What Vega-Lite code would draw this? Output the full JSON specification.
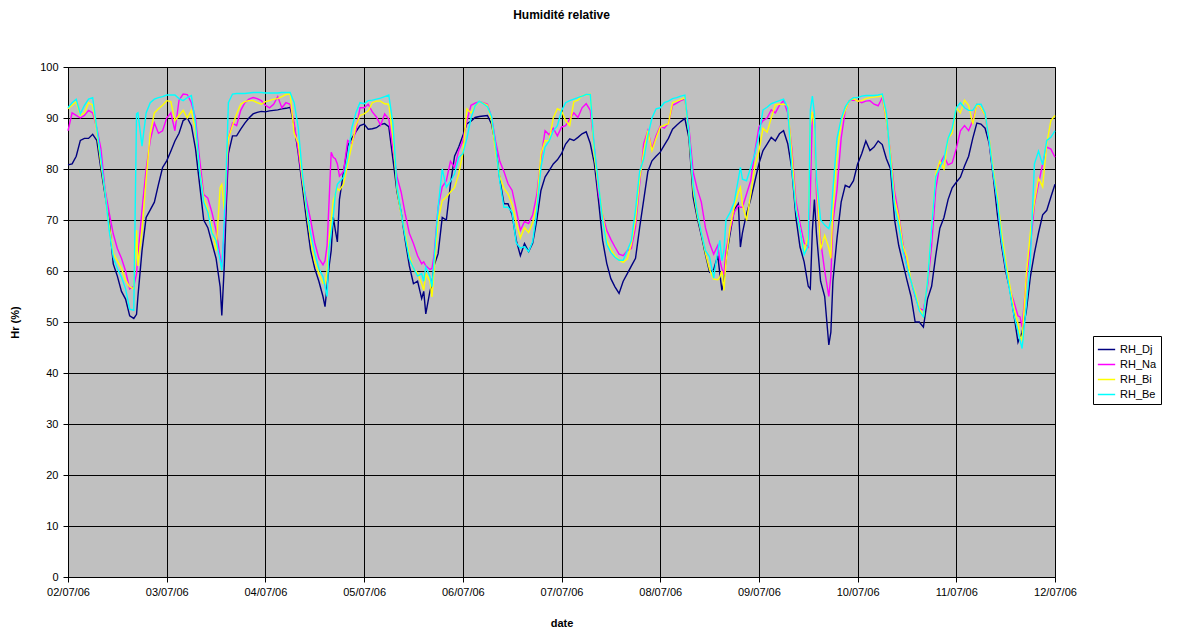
{
  "$schema": "https://vega.github.io/schema/vega-lite/v6.json",
  "width": 987,
  "height": 510,
  "autosize": {"type": "none"},
  "padding": {"left": 68, "top": 67, "right": 134, "bottom": 55},
  "background": "white",
  "title": {"text": "Humidité relative", "fontSize": 12, "fontWeight": "bold", "anchor": "middle", "offset": 39, "color": "black", "font": "Liberation Sans"},
  "config": {
    "font": "Liberation Sans",
    "view": {"fill": "#C0C0C0", "stroke": "#808080", "strokeWidth": 1},
    "axis": {"labelFontSize": 11, "labelColor": "black", "domainColor": "black", "tickColor": "black", "gridColor": "black", "gridOpacity": 1, "gridWidth": 1, "titleFontSize": 11, "titleFontWeight": "bold", "titleColor": "black", "labelFont": "Liberation Sans", "titleFont": "Liberation Sans"}
  },
  "data": {"values": [
    {"t":"2006-07-02T00:00","RH_Dj":80.8,"RH_Na":87.5,"RH_Bi":91.8,"RH_Be":92},
    {"t":"2006-07-02T01:00","RH_Dj":81,"RH_Na":91,"RH_Bi":92.5,"RH_Be":93},
    {"t":"2006-07-02T02:00","RH_Dj":82.5,"RH_Na":90.5,"RH_Bi":93.2,"RH_Be":93.7},
    {"t":"2006-07-02T03:00","RH_Dj":85.6,"RH_Na":90,"RH_Bi":90.5,"RH_Be":90.8},
    {"t":"2006-07-02T04:00","RH_Dj":86,"RH_Na":90.5,"RH_Bi":91,"RH_Be":92.5},
    {"t":"2006-07-02T05:00","RH_Dj":86,"RH_Na":91.5,"RH_Bi":93,"RH_Be":93.7},
    {"t":"2006-07-02T06:00","RH_Dj":86.8,"RH_Na":91,"RH_Bi":92.5,"RH_Be":94},
    {"t":"2006-07-02T07:00","RH_Dj":85.6,"RH_Na":88,"RH_Bi":87.5,"RH_Be":88},
    {"t":"2006-07-02T08:00","RH_Dj":80,"RH_Na":84,"RH_Bi":81,"RH_Be":82},
    {"t":"2006-07-02T09:00","RH_Dj":75,"RH_Na":76,"RH_Bi":75.5,"RH_Be":75.5},
    {"t":"2006-07-02T10:00","RH_Dj":70,"RH_Na":71.5,"RH_Bi":69,"RH_Be":68},
    {"t":"2006-07-02T11:00","RH_Dj":61.4,"RH_Na":67.3,"RH_Bi":63.4,"RH_Be":62.7},
    {"t":"2006-07-02T12:00","RH_Dj":59,"RH_Na":64.4,"RH_Bi":62,"RH_Be":60.5},
    {"t":"2006-07-02T13:00","RH_Dj":56,"RH_Na":62.5,"RH_Bi":60.5,"RH_Be":58.8},
    {"t":"2006-07-02T14:00","RH_Dj":54.5,"RH_Na":60,"RH_Bi":58.2,"RH_Be":56.5},
    {"t":"2006-07-02T15:00","RH_Dj":51.2,"RH_Na":56.5,"RH_Bi":56.9,"RH_Be":52.5},
    {"t":"2006-07-02T16:00","RH_Dj":50.7,"RH_Na":57,"RH_Bi":56.5,"RH_Be":52.3},
    {"t":"2006-07-02T16:40","RH_Dj":51.5,"RH_Na":59.5,"RH_Bi":68,"RH_Be":90.8},
    {"t":"2006-07-02T17:00","RH_Dj":55,"RH_Na":63,"RH_Bi":61,"RH_Be":91},
    {"t":"2006-07-02T18:00","RH_Dj":64,"RH_Na":72,"RH_Bi":68,"RH_Be":84.5},
    {"t":"2006-07-02T19:00","RH_Dj":70.5,"RH_Na":80,"RH_Bi":78,"RH_Be":91},
    {"t":"2006-07-02T20:00","RH_Dj":72,"RH_Na":85.6,"RH_Bi":87,"RH_Be":93},
    {"t":"2006-07-02T21:00","RH_Dj":73.5,"RH_Na":89,"RH_Bi":91,"RH_Be":93.7},
    {"t":"2006-07-02T22:00","RH_Dj":77,"RH_Na":87,"RH_Bi":91.8,"RH_Be":94},
    {"t":"2006-07-02T23:00","RH_Dj":80.3,"RH_Na":87.5,"RH_Bi":92.5,"RH_Be":94.2},
    {"t":"2006-07-03T00:00","RH_Dj":81.6,"RH_Na":90,"RH_Bi":93.4,"RH_Be":94.5},
    {"t":"2006-07-03T01:00","RH_Dj":83.5,"RH_Na":91,"RH_Bi":93.2,"RH_Be":94.5},
    {"t":"2006-07-03T02:00","RH_Dj":85.5,"RH_Na":87.5,"RH_Bi":89.5,"RH_Be":94.5},
    {"t":"2006-07-03T03:00","RH_Dj":87,"RH_Na":93.5,"RH_Bi":90.5,"RH_Be":93.8},
    {"t":"2006-07-03T04:00","RH_Dj":89.5,"RH_Na":94.7,"RH_Bi":91.5,"RH_Be":93.4},
    {"t":"2006-07-03T05:00","RH_Dj":90,"RH_Na":94.6,"RH_Bi":90,"RH_Be":94},
    {"t":"2006-07-03T06:00","RH_Dj":88.5,"RH_Na":93,"RH_Bi":91.5,"RH_Be":94.4},
    {"t":"2006-07-03T07:00","RH_Dj":84,"RH_Na":90,"RH_Bi":87.5,"RH_Be":89},
    {"t":"2006-07-03T08:00","RH_Dj":77,"RH_Na":82,"RH_Bi":80,"RH_Be":79.5},
    {"t":"2006-07-03T09:00","RH_Dj":70,"RH_Na":75,"RH_Bi":74.3,"RH_Be":73.5},
    {"t":"2006-07-03T10:00","RH_Dj":68.5,"RH_Na":74.3,"RH_Bi":72,"RH_Be":71.5},
    {"t":"2006-07-03T11:00","RH_Dj":65.5,"RH_Na":71.5,"RH_Bi":68.5,"RH_Be":67.5},
    {"t":"2006-07-03T12:00","RH_Dj":62.5,"RH_Na":68,"RH_Bi":64,"RH_Be":66},
    {"t":"2006-07-03T13:00","RH_Dj":56.9,"RH_Na":62.7,"RH_Bi":76.4,"RH_Be":62.1},
    {"t":"2006-07-03T13:24","RH_Dj":51.3,"RH_Na":60.8,"RH_Bi":77,"RH_Be":60.1},
    {"t":"2006-07-03T14:00","RH_Dj":61,"RH_Na":68,"RH_Bi":72,"RH_Be":70},
    {"t":"2006-07-03T14:30","RH_Dj":73,"RH_Na":76,"RH_Bi":80,"RH_Be":80},
    {"t":"2006-07-03T15:00","RH_Dj":83,"RH_Na":86,"RH_Bi":86,"RH_Be":93},
    {"t":"2006-07-03T16:00","RH_Dj":86.5,"RH_Na":89,"RH_Bi":88.5,"RH_Be":94.7},
    {"t":"2006-07-03T17:00","RH_Dj":86.5,"RH_Na":88.5,"RH_Bi":90.8,"RH_Be":94.8},
    {"t":"2006-07-03T18:00","RH_Dj":87.8,"RH_Na":91.5,"RH_Bi":92.7,"RH_Be":94.8},
    {"t":"2006-07-03T19:00","RH_Dj":89,"RH_Na":93,"RH_Bi":93.2,"RH_Be":94.8},
    {"t":"2006-07-03T20:00","RH_Dj":90,"RH_Na":93.7,"RH_Bi":93.4,"RH_Be":94.9},
    {"t":"2006-07-03T21:00","RH_Dj":90.8,"RH_Na":94,"RH_Bi":93.4,"RH_Be":95},
    {"t":"2006-07-03T22:00","RH_Dj":91.1,"RH_Na":93.8,"RH_Bi":93,"RH_Be":95},
    {"t":"2006-07-03T23:00","RH_Dj":91.3,"RH_Na":93.4,"RH_Bi":92.7,"RH_Be":95},
    {"t":"2006-07-04T00:00","RH_Dj":91.2,"RH_Na":92.5,"RH_Bi":93.2,"RH_Be":94.9},
    {"t":"2006-07-04T01:00","RH_Dj":91.4,"RH_Na":92,"RH_Bi":93.4,"RH_Be":94.9},
    {"t":"2006-07-04T02:00","RH_Dj":91.5,"RH_Na":92.7,"RH_Bi":93.7,"RH_Be":94.9},
    {"t":"2006-07-04T03:00","RH_Dj":91.6,"RH_Na":94.2,"RH_Bi":93.8,"RH_Be":94.9},
    {"t":"2006-07-04T04:00","RH_Dj":91.8,"RH_Na":92,"RH_Bi":94.2,"RH_Be":95},
    {"t":"2006-07-04T05:00","RH_Dj":91.9,"RH_Na":93,"RH_Bi":94.6,"RH_Be":95},
    {"t":"2006-07-04T06:00","RH_Dj":92.1,"RH_Na":92.7,"RH_Bi":94.7,"RH_Be":95},
    {"t":"2006-07-04T07:00","RH_Dj":88.5,"RH_Na":89,"RH_Bi":87,"RH_Be":93},
    {"t":"2006-07-04T08:00","RH_Dj":83,"RH_Na":83.5,"RH_Bi":85,"RH_Be":88},
    {"t":"2006-07-04T09:00","RH_Dj":76.5,"RH_Na":77.5,"RH_Bi":78,"RH_Be":79},
    {"t":"2006-07-04T10:00","RH_Dj":69.9,"RH_Na":73.8,"RH_Bi":71.9,"RH_Be":72.5},
    {"t":"2006-07-04T11:00","RH_Dj":64,"RH_Na":70,"RH_Bi":66,"RH_Be":67.3},
    {"t":"2006-07-04T12:00","RH_Dj":60.5,"RH_Na":65.5,"RH_Bi":61.8,"RH_Be":63.5},
    {"t":"2006-07-04T13:00","RH_Dj":58,"RH_Na":62.5,"RH_Bi":59.5,"RH_Be":60.5},
    {"t":"2006-07-04T14:00","RH_Dj":55,"RH_Na":61.2,"RH_Bi":57.6,"RH_Be":58.9},
    {"t":"2006-07-04T14:30","RH_Dj":53,"RH_Na":62,"RH_Bi":57.5,"RH_Be":57},
    {"t":"2006-07-04T15:00","RH_Dj":57,"RH_Na":65,"RH_Bi":60,"RH_Be":55},
    {"t":"2006-07-04T15:30","RH_Dj":61,"RH_Na":74,"RH_Bi":66,"RH_Be":64.5},
    {"t":"2006-07-04T16:00","RH_Dj":64,"RH_Na":83.3,"RH_Bi":70,"RH_Be":67.5},
    {"t":"2006-07-04T16:30","RH_Dj":70.6,"RH_Na":82.3,"RH_Bi":73.8,"RH_Be":70.6},
    {"t":"2006-07-04T17:00","RH_Dj":68,"RH_Na":82,"RH_Bi":75,"RH_Be":75},
    {"t":"2006-07-04T17:30","RH_Dj":65.7,"RH_Na":81,"RH_Bi":76.2,"RH_Be":77},
    {"t":"2006-07-04T18:00","RH_Dj":74,"RH_Na":78.6,"RH_Bi":75.8,"RH_Be":77.5},
    {"t":"2006-07-04T19:00","RH_Dj":79.5,"RH_Na":79.5,"RH_Bi":77,"RH_Be":78.4},
    {"t":"2006-07-04T20:00","RH_Dj":84.5,"RH_Na":85.6,"RH_Bi":81,"RH_Be":82},
    {"t":"2006-07-04T21:00","RH_Dj":86,"RH_Na":85,"RH_Bi":84.6,"RH_Be":88},
    {"t":"2006-07-04T22:00","RH_Dj":87.3,"RH_Na":87.5,"RH_Bi":88.5,"RH_Be":91},
    {"t":"2006-07-04T23:00","RH_Dj":88.5,"RH_Na":92,"RH_Bi":90.5,"RH_Be":93},
    {"t":"2006-07-05T00:00","RH_Dj":88.8,"RH_Na":92,"RH_Bi":90.8,"RH_Be":92.8},
    {"t":"2006-07-05T01:00","RH_Dj":87.8,"RH_Na":92.7,"RH_Bi":91.4,"RH_Be":93.4},
    {"t":"2006-07-05T02:00","RH_Dj":87.9,"RH_Na":91.2,"RH_Bi":93,"RH_Be":93.5},
    {"t":"2006-07-05T03:00","RH_Dj":88.1,"RH_Na":90.2,"RH_Bi":93.3,"RH_Be":93.7},
    {"t":"2006-07-05T04:00","RH_Dj":88.7,"RH_Na":88.6,"RH_Bi":93.3,"RH_Be":93.9},
    {"t":"2006-07-05T05:00","RH_Dj":88.9,"RH_Na":90.8,"RH_Bi":92.8,"RH_Be":94.2},
    {"t":"2006-07-05T06:00","RH_Dj":88.3,"RH_Na":89.8,"RH_Bi":92.7,"RH_Be":94.5},
    {"t":"2006-07-05T07:00","RH_Dj":82,"RH_Na":84,"RH_Bi":86.5,"RH_Be":89},
    {"t":"2006-07-05T08:00","RH_Dj":75.5,"RH_Na":78.5,"RH_Bi":76,"RH_Be":76.5},
    {"t":"2006-07-05T09:00","RH_Dj":71.5,"RH_Na":75.5,"RH_Bi":71,"RH_Be":71.5},
    {"t":"2006-07-05T10:00","RH_Dj":66,"RH_Na":71.2,"RH_Bi":67.3,"RH_Be":66.6},
    {"t":"2006-07-05T11:00","RH_Dj":61,"RH_Na":67.4,"RH_Bi":63,"RH_Be":62.3},
    {"t":"2006-07-05T12:00","RH_Dj":57.5,"RH_Na":65.4,"RH_Bi":60.5,"RH_Be":60.6},
    {"t":"2006-07-05T13:00","RH_Dj":58,"RH_Na":63,"RH_Bi":59.6,"RH_Be":59},
    {"t":"2006-07-05T14:00","RH_Dj":54.6,"RH_Na":61.4,"RH_Bi":57.5,"RH_Be":59.5},
    {"t":"2006-07-05T14:30","RH_Dj":56,"RH_Na":61.8,"RH_Bi":56.2,"RH_Be":58},
    {"t":"2006-07-05T15:00","RH_Dj":51.6,"RH_Na":61,"RH_Bi":59.5,"RH_Be":60.8},
    {"t":"2006-07-05T16:00","RH_Dj":56,"RH_Na":60.3,"RH_Bi":58,"RH_Be":59},
    {"t":"2006-07-05T16:30","RH_Dj":57.5,"RH_Na":60.5,"RH_Bi":54.9,"RH_Be":56.9},
    {"t":"2006-07-05T17:00","RH_Dj":61,"RH_Na":63,"RH_Bi":60,"RH_Be":62},
    {"t":"2006-07-05T18:00","RH_Dj":63.4,"RH_Na":72.5,"RH_Bi":69.9,"RH_Be":72.5},
    {"t":"2006-07-05T19:00","RH_Dj":70.5,"RH_Na":76.5,"RH_Bi":73.8,"RH_Be":80},
    {"t":"2006-07-05T20:00","RH_Dj":70,"RH_Na":77.7,"RH_Bi":74.5,"RH_Be":76.4},
    {"t":"2006-07-05T21:00","RH_Dj":77,"RH_Na":81.5,"RH_Bi":75.5,"RH_Be":77.6},
    {"t":"2006-07-05T22:00","RH_Dj":82.5,"RH_Na":80.3,"RH_Bi":76.4,"RH_Be":79},
    {"t":"2006-07-05T23:00","RH_Dj":84.3,"RH_Na":83.6,"RH_Bi":79,"RH_Be":82.3},
    {"t":"2006-07-06T00:00","RH_Dj":86.5,"RH_Na":85.5,"RH_Bi":83,"RH_Be":83},
    {"t":"2006-07-06T01:00","RH_Dj":88.9,"RH_Na":89.5,"RH_Bi":91.8,"RH_Be":86},
    {"t":"2006-07-06T02:00","RH_Dj":89.4,"RH_Na":92.5,"RH_Bi":91,"RH_Be":90},
    {"t":"2006-07-06T03:00","RH_Dj":90.1,"RH_Na":92.9,"RH_Bi":92.3,"RH_Be":92.4},
    {"t":"2006-07-06T04:00","RH_Dj":90.3,"RH_Na":93.2,"RH_Bi":93.2,"RH_Be":93.3},
    {"t":"2006-07-06T05:00","RH_Dj":90.4,"RH_Na":93,"RH_Bi":92.9,"RH_Be":92.8},
    {"t":"2006-07-06T06:00","RH_Dj":90.5,"RH_Na":92.7,"RH_Bi":92.5,"RH_Be":92.2},
    {"t":"2006-07-06T07:00","RH_Dj":88.8,"RH_Na":90.1,"RH_Bi":89.5,"RH_Be":90.3},
    {"t":"2006-07-06T08:00","RH_Dj":84.5,"RH_Na":85.3,"RH_Bi":83.3,"RH_Be":84.5},
    {"t":"2006-07-06T09:00","RH_Dj":78,"RH_Na":81.5,"RH_Bi":78.5,"RH_Be":77.5},
    {"t":"2006-07-06T10:00","RH_Dj":73.2,"RH_Na":79.5,"RH_Bi":76.2,"RH_Be":72.5},
    {"t":"2006-07-06T11:00","RH_Dj":73.2,"RH_Na":77.1,"RH_Bi":75.1,"RH_Be":72.5},
    {"t":"2006-07-06T12:00","RH_Dj":71,"RH_Na":75.8,"RH_Bi":73,"RH_Be":71.5},
    {"t":"2006-07-06T13:00","RH_Dj":66,"RH_Na":72,"RH_Bi":69.5,"RH_Be":65.5},
    {"t":"2006-07-06T14:00","RH_Dj":63,"RH_Na":68,"RH_Bi":66.5,"RH_Be":64.5},
    {"t":"2006-07-06T15:00","RH_Dj":65.4,"RH_Na":69.7,"RH_Bi":68.5,"RH_Be":64.8},
    {"t":"2006-07-06T16:00","RH_Dj":63.8,"RH_Na":69.3,"RH_Bi":67.5,"RH_Be":63.8},
    {"t":"2006-07-06T17:00","RH_Dj":65.5,"RH_Na":71,"RH_Bi":69.5,"RH_Be":65.8},
    {"t":"2006-07-06T18:00","RH_Dj":70,"RH_Na":75,"RH_Bi":73,"RH_Be":72},
    {"t":"2006-07-06T19:00","RH_Dj":75.8,"RH_Na":82,"RH_Bi":83,"RH_Be":80.3},
    {"t":"2006-07-06T20:00","RH_Dj":78.4,"RH_Na":87.5,"RH_Bi":85.6,"RH_Be":84.3},
    {"t":"2006-07-06T21:00","RH_Dj":79.7,"RH_Na":86.7,"RH_Bi":85.5,"RH_Be":85.5},
    {"t":"2006-07-06T22:00","RH_Dj":81,"RH_Na":88,"RH_Bi":90,"RH_Be":87.5},
    {"t":"2006-07-06T23:00","RH_Dj":81.8,"RH_Na":86.5,"RH_Bi":91.8,"RH_Be":88.5},
    {"t":"2006-07-07T00:00","RH_Dj":83,"RH_Na":88.2,"RH_Bi":91.4,"RH_Be":91.4},
    {"t":"2006-07-07T01:00","RH_Dj":84.9,"RH_Na":88.5,"RH_Bi":89.5,"RH_Be":93},
    {"t":"2006-07-07T02:00","RH_Dj":85.9,"RH_Na":89.8,"RH_Bi":88.5,"RH_Be":93.4},
    {"t":"2006-07-07T03:00","RH_Dj":85.6,"RH_Na":91,"RH_Bi":93.2,"RH_Be":93.7},
    {"t":"2006-07-07T04:00","RH_Dj":86.2,"RH_Na":90.1,"RH_Bi":93.5,"RH_Be":94},
    {"t":"2006-07-07T05:00","RH_Dj":86.9,"RH_Na":92,"RH_Bi":94.4,"RH_Be":94.3},
    {"t":"2006-07-07T06:00","RH_Dj":87.3,"RH_Na":92.8,"RH_Bi":94.5,"RH_Be":94.6},
    {"t":"2006-07-07T07:00","RH_Dj":85,"RH_Na":91.5,"RH_Bi":94.7,"RH_Be":94.6},
    {"t":"2006-07-07T08:00","RH_Dj":81,"RH_Na":84,"RH_Bi":82.5,"RH_Be":84},
    {"t":"2006-07-07T09:00","RH_Dj":73.8,"RH_Na":75.1,"RH_Bi":76.4,"RH_Be":77},
    {"t":"2006-07-07T10:00","RH_Dj":66,"RH_Na":71,"RH_Bi":71,"RH_Be":70},
    {"t":"2006-07-07T11:00","RH_Dj":61.5,"RH_Na":68,"RH_Bi":66,"RH_Be":65.2},
    {"t":"2006-07-07T12:00","RH_Dj":58.5,"RH_Na":66.2,"RH_Bi":64.2,"RH_Be":63.6},
    {"t":"2006-07-07T13:00","RH_Dj":56.9,"RH_Na":64.7,"RH_Bi":63,"RH_Be":62.7},
    {"t":"2006-07-07T14:00","RH_Dj":55.6,"RH_Na":63.3,"RH_Bi":62.1,"RH_Be":62.1},
    {"t":"2006-07-07T15:00","RH_Dj":58,"RH_Na":63,"RH_Bi":61.7,"RH_Be":62.1},
    {"t":"2006-07-07T16:00","RH_Dj":59.5,"RH_Na":64,"RH_Bi":62.4,"RH_Be":64},
    {"t":"2006-07-07T17:00","RH_Dj":61,"RH_Na":64.4,"RH_Bi":65.3,"RH_Be":66},
    {"t":"2006-07-07T18:00","RH_Dj":62.5,"RH_Na":68.6,"RH_Bi":70,"RH_Be":72},
    {"t":"2006-07-07T19:00","RH_Dj":68.5,"RH_Na":77,"RH_Bi":78,"RH_Be":79.5},
    {"t":"2006-07-07T20:00","RH_Dj":74,"RH_Na":85,"RH_Bi":83.5,"RH_Be":82},
    {"t":"2006-07-07T21:00","RH_Dj":79.5,"RH_Na":87.5,"RH_Bi":87.5,"RH_Be":86.5},
    {"t":"2006-07-07T22:00","RH_Dj":81.6,"RH_Na":84,"RH_Bi":83.6,"RH_Be":90},
    {"t":"2006-07-07T23:00","RH_Dj":82.5,"RH_Na":86.5,"RH_Bi":86,"RH_Be":91.8},
    {"t":"2006-07-08T00:00","RH_Dj":83.3,"RH_Na":88.4,"RH_Bi":88.2,"RH_Be":92},
    {"t":"2006-07-08T01:00","RH_Dj":84.7,"RH_Na":88,"RH_Bi":88.6,"RH_Be":93},
    {"t":"2006-07-08T02:00","RH_Dj":86,"RH_Na":89,"RH_Bi":88.9,"RH_Be":93.3},
    {"t":"2006-07-08T03:00","RH_Dj":87.8,"RH_Na":92.5,"RH_Bi":93,"RH_Be":93.8},
    {"t":"2006-07-08T04:00","RH_Dj":88.6,"RH_Na":92.9,"RH_Bi":93.3,"RH_Be":94},
    {"t":"2006-07-08T05:00","RH_Dj":89.3,"RH_Na":93.4,"RH_Bi":93.6,"RH_Be":94.3},
    {"t":"2006-07-08T06:00","RH_Dj":89.9,"RH_Na":93.7,"RH_Bi":94,"RH_Be":94.5},
    {"t":"2006-07-08T07:00","RH_Dj":86,"RH_Na":88,"RH_Bi":87,"RH_Be":87},
    {"t":"2006-07-08T08:00","RH_Dj":74.5,"RH_Na":79.5,"RH_Bi":76,"RH_Be":77},
    {"t":"2006-07-08T09:00","RH_Dj":70.4,"RH_Na":76.1,"RH_Bi":71,"RH_Be":71.5},
    {"t":"2006-07-08T10:00","RH_Dj":67,"RH_Na":73.5,"RH_Bi":67.5,"RH_Be":67.5},
    {"t":"2006-07-08T11:00","RH_Dj":63.2,"RH_Na":68.5,"RH_Bi":63.5,"RH_Be":64},
    {"t":"2006-07-08T12:00","RH_Dj":59.8,"RH_Na":65.5,"RH_Bi":60.3,"RH_Be":62.8},
    {"t":"2006-07-08T13:00","RH_Dj":60.3,"RH_Na":63.3,"RH_Bi":58.4,"RH_Be":58.6},
    {"t":"2006-07-08T14:00","RH_Dj":63,"RH_Na":65,"RH_Bi":58.3,"RH_Be":64},
    {"t":"2006-07-08T14:30","RH_Dj":59.5,"RH_Na":62.1,"RH_Bi":58.8,"RH_Be":66},
    {"t":"2006-07-08T15:00","RH_Dj":56.2,"RH_Na":60.5,"RH_Bi":60,"RH_Be":62},
    {"t":"2006-07-08T15:30","RH_Dj":58,"RH_Na":59.3,"RH_Bi":56.2,"RH_Be":64},
    {"t":"2006-07-08T16:00","RH_Dj":62.5,"RH_Na":64,"RH_Bi":62,"RH_Be":70},
    {"t":"2006-07-08T17:00","RH_Dj":67.3,"RH_Na":68,"RH_Bi":68.6,"RH_Be":71.5},
    {"t":"2006-07-08T18:00","RH_Dj":72,"RH_Na":71.5,"RH_Bi":72.5,"RH_Be":73.5},
    {"t":"2006-07-08T19:00","RH_Dj":73.2,"RH_Na":72.8,"RH_Bi":75.5,"RH_Be":78},
    {"t":"2006-07-08T19:30","RH_Dj":64.7,"RH_Na":72.5,"RH_Bi":76.4,"RH_Be":80.3},
    {"t":"2006-07-08T20:00","RH_Dj":67.5,"RH_Na":72.5,"RH_Bi":73,"RH_Be":78},
    {"t":"2006-07-08T21:00","RH_Dj":71.3,"RH_Na":75.1,"RH_Bi":69.9,"RH_Be":77.7},
    {"t":"2006-07-08T22:00","RH_Dj":74,"RH_Na":77.7,"RH_Bi":75,"RH_Be":80.3},
    {"t":"2006-07-08T23:00","RH_Dj":77.5,"RH_Na":83.3,"RH_Bi":80.5,"RH_Be":83},
    {"t":"2006-07-09T00:00","RH_Dj":81,"RH_Na":88.2,"RH_Bi":83.5,"RH_Be":86.5},
    {"t":"2006-07-09T01:00","RH_Dj":83.6,"RH_Na":89.5,"RH_Bi":88,"RH_Be":91.6},
    {"t":"2006-07-09T02:00","RH_Dj":84.9,"RH_Na":90,"RH_Bi":87.2,"RH_Be":92.1},
    {"t":"2006-07-09T03:00","RH_Dj":86.2,"RH_Na":91.6,"RH_Bi":90,"RH_Be":92.8},
    {"t":"2006-07-09T04:00","RH_Dj":85.5,"RH_Na":91,"RH_Bi":92.6,"RH_Be":93.1},
    {"t":"2006-07-09T05:00","RH_Dj":86.9,"RH_Na":92.5,"RH_Bi":92.7,"RH_Be":93.4},
    {"t":"2006-07-09T06:00","RH_Dj":87.5,"RH_Na":93.4,"RH_Bi":92.7,"RH_Be":93.7},
    {"t":"2006-07-09T07:00","RH_Dj":85,"RH_Na":91,"RH_Bi":92.5,"RH_Be":92},
    {"t":"2006-07-09T08:00","RH_Dj":80,"RH_Na":84,"RH_Bi":83,"RH_Be":80},
    {"t":"2006-07-09T09:00","RH_Dj":70.5,"RH_Na":73.8,"RH_Bi":72.5,"RH_Be":72},
    {"t":"2006-07-09T10:00","RH_Dj":64.7,"RH_Na":69.3,"RH_Bi":68,"RH_Be":68},
    {"t":"2006-07-09T11:00","RH_Dj":61.8,"RH_Na":65.5,"RH_Bi":63.8,"RH_Be":63.2},
    {"t":"2006-07-09T12:00","RH_Dj":57,"RH_Na":64.7,"RH_Bi":67,"RH_Be":65},
    {"t":"2006-07-09T12:30","RH_Dj":56.5,"RH_Na":75,"RH_Bi":88.5,"RH_Be":91.5},
    {"t":"2006-07-09T13:00","RH_Dj":68,"RH_Na":91,"RH_Bi":91.2,"RH_Be":94.3},
    {"t":"2006-07-09T13:30","RH_Dj":74,"RH_Na":90,"RH_Bi":88,"RH_Be":91},
    {"t":"2006-07-09T14:00","RH_Dj":67.3,"RH_Na":75.1,"RH_Bi":78.4,"RH_Be":78.4},
    {"t":"2006-07-09T15:00","RH_Dj":58,"RH_Na":66,"RH_Bi":64.2,"RH_Be":70},
    {"t":"2006-07-09T16:00","RH_Dj":55,"RH_Na":60,"RH_Bi":67,"RH_Be":69},
    {"t":"2006-07-09T17:00","RH_Dj":45.5,"RH_Na":55,"RH_Bi":64.5,"RH_Be":68.3},
    {"t":"2006-07-09T17:30","RH_Dj":48,"RH_Na":59,"RH_Bi":62.5,"RH_Be":70},
    {"t":"2006-07-09T18:00","RH_Dj":58,"RH_Na":69.5,"RH_Bi":72,"RH_Be":76},
    {"t":"2006-07-09T19:00","RH_Dj":66.5,"RH_Na":76,"RH_Bi":83,"RH_Be":86},
    {"t":"2006-07-09T20:00","RH_Dj":73.5,"RH_Na":86,"RH_Bi":89.3,"RH_Be":89.8},
    {"t":"2006-07-09T21:00","RH_Dj":76.8,"RH_Na":91.5,"RH_Bi":91.5,"RH_Be":92.2},
    {"t":"2006-07-09T22:00","RH_Dj":76.4,"RH_Na":93.4,"RH_Bi":93.4,"RH_Be":93.4},
    {"t":"2006-07-09T23:00","RH_Dj":77.7,"RH_Na":93.5,"RH_Bi":93.8,"RH_Be":94},
    {"t":"2006-07-10T00:00","RH_Dj":81,"RH_Na":93.4,"RH_Bi":93.3,"RH_Be":94},
    {"t":"2006-07-10T01:00","RH_Dj":83,"RH_Na":93,"RH_Bi":93.4,"RH_Be":94.3},
    {"t":"2006-07-10T02:00","RH_Dj":85.5,"RH_Na":93.3,"RH_Bi":93.8,"RH_Be":94.4},
    {"t":"2006-07-10T03:00","RH_Dj":83.6,"RH_Na":93.4,"RH_Bi":94,"RH_Be":94.4},
    {"t":"2006-07-10T04:00","RH_Dj":84.3,"RH_Na":92.7,"RH_Bi":94.1,"RH_Be":94.4},
    {"t":"2006-07-10T05:00","RH_Dj":85.5,"RH_Na":92.4,"RH_Bi":94.2,"RH_Be":94.5},
    {"t":"2006-07-10T06:00","RH_Dj":84.8,"RH_Na":94,"RH_Bi":94.4,"RH_Be":94.7},
    {"t":"2006-07-10T07:00","RH_Dj":82,"RH_Na":89.5,"RH_Bi":89.5,"RH_Be":91},
    {"t":"2006-07-10T08:00","RH_Dj":80,"RH_Na":83,"RH_Bi":83,"RH_Be":81.6},
    {"t":"2006-07-10T09:00","RH_Dj":70,"RH_Na":75.5,"RH_Bi":74,"RH_Be":72.5},
    {"t":"2006-07-10T10:00","RH_Dj":65,"RH_Na":71,"RH_Bi":70.6,"RH_Be":69},
    {"t":"2006-07-10T11:00","RH_Dj":61.6,"RH_Na":65.5,"RH_Bi":65,"RH_Be":64},
    {"t":"2006-07-10T12:00","RH_Dj":58.2,"RH_Na":60.8,"RH_Bi":62.7,"RH_Be":60.8},
    {"t":"2006-07-10T13:00","RH_Dj":55,"RH_Na":58,"RH_Bi":58,"RH_Be":58},
    {"t":"2006-07-10T14:00","RH_Dj":50,"RH_Na":55,"RH_Bi":55.8,"RH_Be":55.2},
    {"t":"2006-07-10T15:00","RH_Dj":50,"RH_Na":52.7,"RH_Bi":52.8,"RH_Be":52.2},
    {"t":"2006-07-10T16:00","RH_Dj":49,"RH_Na":52.3,"RH_Bi":51,"RH_Be":51},
    {"t":"2006-07-10T17:00","RH_Dj":54.5,"RH_Na":57,"RH_Bi":58,"RH_Be":58},
    {"t":"2006-07-10T18:00","RH_Dj":57,"RH_Na":65,"RH_Bi":68.5,"RH_Be":68.5},
    {"t":"2006-07-10T19:00","RH_Dj":63,"RH_Na":76,"RH_Bi":79,"RH_Be":78.5},
    {"t":"2006-07-10T20:00","RH_Dj":68.4,"RH_Na":81,"RH_Bi":81.5,"RH_Be":80.3},
    {"t":"2006-07-10T21:00","RH_Dj":70.5,"RH_Na":82.5,"RH_Bi":80,"RH_Be":82},
    {"t":"2006-07-10T22:00","RH_Dj":74,"RH_Na":80.8,"RH_Bi":86,"RH_Be":86},
    {"t":"2006-07-10T23:00","RH_Dj":76.3,"RH_Na":81.2,"RH_Bi":87,"RH_Be":88},
    {"t":"2006-07-11T00:00","RH_Dj":77.4,"RH_Na":84,"RH_Bi":92,"RH_Be":92},
    {"t":"2006-07-11T01:00","RH_Dj":78.4,"RH_Na":87.5,"RH_Bi":91,"RH_Be":93},
    {"t":"2006-07-11T02:00","RH_Dj":80.6,"RH_Na":88.5,"RH_Bi":93.5,"RH_Be":92},
    {"t":"2006-07-11T03:00","RH_Dj":82.5,"RH_Na":87.5,"RH_Bi":92.5,"RH_Be":91.5},
    {"t":"2006-07-11T04:00","RH_Dj":86,"RH_Na":89.5,"RH_Bi":88.8,"RH_Be":91.5},
    {"t":"2006-07-11T05:00","RH_Dj":89,"RH_Na":92.7,"RH_Bi":92.7,"RH_Be":92.7},
    {"t":"2006-07-11T06:00","RH_Dj":88.8,"RH_Na":92,"RH_Bi":92,"RH_Be":92.7},
    {"t":"2006-07-11T07:00","RH_Dj":88,"RH_Na":90.5,"RH_Bi":90.5,"RH_Be":91},
    {"t":"2006-07-11T08:00","RH_Dj":85,"RH_Na":85.5,"RH_Bi":86,"RH_Be":85.5},
    {"t":"2006-07-11T09:00","RH_Dj":78.4,"RH_Na":79,"RH_Bi":79.7,"RH_Be":79},
    {"t":"2006-07-11T10:00","RH_Dj":71,"RH_Na":73.5,"RH_Bi":74.5,"RH_Be":73.5},
    {"t":"2006-07-11T11:00","RH_Dj":65,"RH_Na":66,"RH_Bi":67.5,"RH_Be":66},
    {"t":"2006-07-11T12:00","RH_Dj":60,"RH_Na":60.8,"RH_Bi":62,"RH_Be":60.8},
    {"t":"2006-07-11T13:00","RH_Dj":56.5,"RH_Na":56.5,"RH_Bi":57.2,"RH_Be":56},
    {"t":"2006-07-11T14:00","RH_Dj":51.5,"RH_Na":54,"RH_Bi":52.7,"RH_Be":51.4},
    {"t":"2006-07-11T15:00","RH_Dj":46,"RH_Na":51.2,"RH_Bi":49.7,"RH_Be":48.2},
    {"t":"2006-07-11T15:30","RH_Dj":47,"RH_Na":51,"RH_Bi":47.1,"RH_Be":46.4},
    {"t":"2006-07-11T16:00","RH_Dj":48,"RH_Na":49,"RH_Bi":46.4,"RH_Be":44.8},
    {"t":"2006-07-11T17:00","RH_Dj":52,"RH_Na":58.2,"RH_Bi":59,"RH_Be":53},
    {"t":"2006-07-11T18:00","RH_Dj":58.8,"RH_Na":64.7,"RH_Bi":67.5,"RH_Be":62},
    {"t":"2006-07-11T19:00","RH_Dj":63.5,"RH_Na":73,"RH_Bi":73.5,"RH_Be":81},
    {"t":"2006-07-11T20:00","RH_Dj":67.5,"RH_Na":77.1,"RH_Bi":78.2,"RH_Be":83.5},
    {"t":"2006-07-11T21:00","RH_Dj":71,"RH_Na":81,"RH_Bi":76.5,"RH_Be":80.8},
    {"t":"2006-07-11T22:00","RH_Dj":71.9,"RH_Na":84.3,"RH_Bi":85,"RH_Be":85.6},
    {"t":"2006-07-11T23:00","RH_Dj":74.5,"RH_Na":83.9,"RH_Bi":89.5,"RH_Be":86.2},
    {"t":"2006-07-12T00:00","RH_Dj":77,"RH_Na":82.3,"RH_Bi":90.5,"RH_Be":87.5}
  ]},
  "transform": [{"fold": ["RH_Dj", "RH_Na", "RH_Bi", "RH_Be"], "as": ["serie", "hr"]}],
  "mark": {"type": "line", "strokeWidth": 1.4, "interpolate": "linear"},
  "encoding": {
    "x": {
      "field": "t", "type": "temporal",
      "scale": {"domain": [{"year": 2006, "month": 7, "date": 2}, {"year": 2006, "month": 7, "date": 12}]},
      "axis": {
        "title": "date",
        "values": [{"year": 2006, "month": 7, "date": 2}, {"year": 2006, "month": 7, "date": 3}, {"year": 2006, "month": 7, "date": 4}, {"year": 2006, "month": 7, "date": 5}, {"year": 2006, "month": 7, "date": 6}, {"year": 2006, "month": 7, "date": 7}, {"year": 2006, "month": 7, "date": 8}, {"year": 2006, "month": 7, "date": 9}, {"year": 2006, "month": 7, "date": 10}, {"year": 2006, "month": 7, "date": 11}, {"year": 2006, "month": 7, "date": 12}],
        "format": "%d/%m/%y",
        "grid": true,
        "tickSize": 5,
        "labelPadding": 4,
        "labelFlush": false,
        "labelOverlap": false,
        "titleY": 40,
        "titleBaseline": "top"
      }
    },
    "y": {
      "field": "hr", "type": "quantitative",
      "scale": {"domain": [0, 100], "nice": false},
      "axis": {
        "title": "Hr (%)",
        "values": [0, 10, 20, 30, 40, 50, 60, 70, 80, 90, 100],
        "grid": true,
        "tickSize": 5,
        "labelPadding": 5,
        "titleX": -53,
        "titleY": 255,
        "titleBaseline": "middle"
      }
    },
    "color": {
      "field": "serie", "type": "nominal",
      "scale": {"domain": ["RH_Dj", "RH_Na", "RH_Bi", "RH_Be"], "range": ["#000080", "#FF00FF", "#FFFF00", "#00FFFF"]},
      "legend": {
        "title": null,
        "orient": "none",
        "legendX": 1025,
        "legendY": 269,
        "symbolType": "stroke",
        "symbolSize": 300,
        "symbolStrokeWidth": 1.5,
        "labelFontSize": 11,
        "labelColor": "black",
        "labelFont": "Liberation Sans",
        "strokeColor": "black",
        "fillColor": "white",
        "padding": 4,
        "rowPadding": -2,
        "labelOffset": 4
      }
    }
  }
}
